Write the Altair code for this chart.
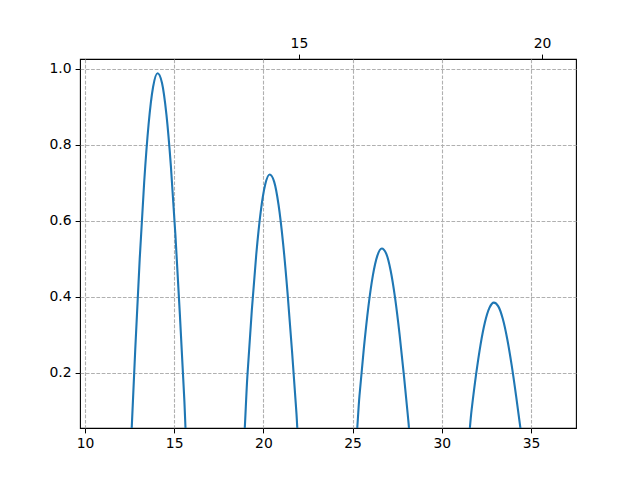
import altair as alt
import pandas as pd

# Curve samples (four humps; zero points lie below the visible y range)
x_vals = [
    12.566, 12.816, 13.066, 13.316, 13.566, 13.816, 14.066, 14.316, 14.566, 14.816, 15.066, 15.316, 15.566, 15.708,
    18.850, 19.100, 19.350, 19.600, 19.850, 20.100, 20.350, 20.600, 20.850, 21.100, 21.350, 21.600, 21.850, 21.991,
    25.133, 25.383, 25.633, 25.883, 26.133, 26.383, 26.633, 26.883, 27.133, 27.383, 27.633, 27.883, 28.133, 28.274,
    31.416, 31.666, 31.916, 32.166, 32.416, 32.666, 32.916, 33.166, 33.416, 33.666, 33.916, 34.166, 34.416, 34.558,
]
y_vals = [
    0.0, 0.2607, 0.4989, 0.7005, 0.8541, 0.9513, 0.9874, 0.9620, 0.8779, 0.7420, 0.5636, 0.3550, 0.1296, 0.0,
    0.0, 0.1904, 0.3644, 0.5117, 0.6239, 0.6949, 0.7213, 0.7027, 0.6412, 0.5419, 0.4116, 0.2593, 0.0947, 0.0,
    0.0, 0.1391, 0.2662, 0.3737, 0.4557, 0.5075, 0.5269, 0.5133, 0.4684, 0.3958, 0.3007, 0.1894, 0.0691, 0.0,
    0.0, 0.1016, 0.1944, 0.2730, 0.3328, 0.3707, 0.3847, 0.3748, 0.3421, 0.2891, 0.2196, 0.1383, 0.0505, 0.0,
]

x_ticks = [10, 15, 20, 25, 30, 35]
y_ticks = [0.2, 0.4, 0.6, 0.8, 1.0]
top_tick_pos = [21.99, 35.62]
top_tick_labels = ["15", "20"]

df = pd.DataFrame({"x": x_vals, "y": y_vals})
top_df = pd.DataFrame({"x": top_tick_pos, "label": top_tick_labels})

xscale = alt.Scale(domain=[9.72, 37.52], nice=False, zero=False)
yscale = alt.Scale(domain=[0.055, 1.025], nice=False, zero=False)

common_axis = dict(
    title=None,
    domain=False,
    tickColor="black",
    tickSize=4.9,
    tickWidth=1,
    labelColor="black",
    labelFont="DejaVu Sans",
    labelFontSize=13.9,
    labelPadding=4,
)

grid_style = dict(grid=True, gridColor="#b0b0b0", gridDash=[3.7, 1.6], gridWidth=1.1)

line = alt.Chart(df).mark_line(
    clip=True, color="#1f77b4", strokeWidth=2.1, interpolate="monotone"
).encode(
    x=alt.X("x:Q", scale=xscale, axis=alt.Axis(values=x_ticks, orient="bottom", **grid_style, **common_axis)),
    y=alt.Y("y:Q", scale=yscale, axis=alt.Axis(values=y_ticks, format=".1f", orient="left", **grid_style, **common_axis)),
)

label_expr = " : ".join(
    f"abs(datum.value - {p}) < 0.01 ? '{l}'" for p, l in zip(top_tick_pos, top_tick_labels)
) + " : ''"

top = alt.Chart(top_df).mark_point(opacity=0).encode(
    x=alt.X("x:Q", scale=xscale, axis=alt.Axis(values=top_tick_pos, orient="top", grid=False,
                                                labelExpr=label_expr, **common_axis)),
    y=alt.value(0),
)

chart = alt.layer(line, top).resolve_axis(x="independent").properties(
    width=496,
    height=369,
    autosize=alt.AutoSizeParams(type="none"),
    padding={"left": 72, "top": 51, "right": 56, "bottom": 44},
).configure_view(stroke="black", strokeWidth=1.1)

chart.save("out.html", embed_options={"renderer": "svg", "actions": False})
